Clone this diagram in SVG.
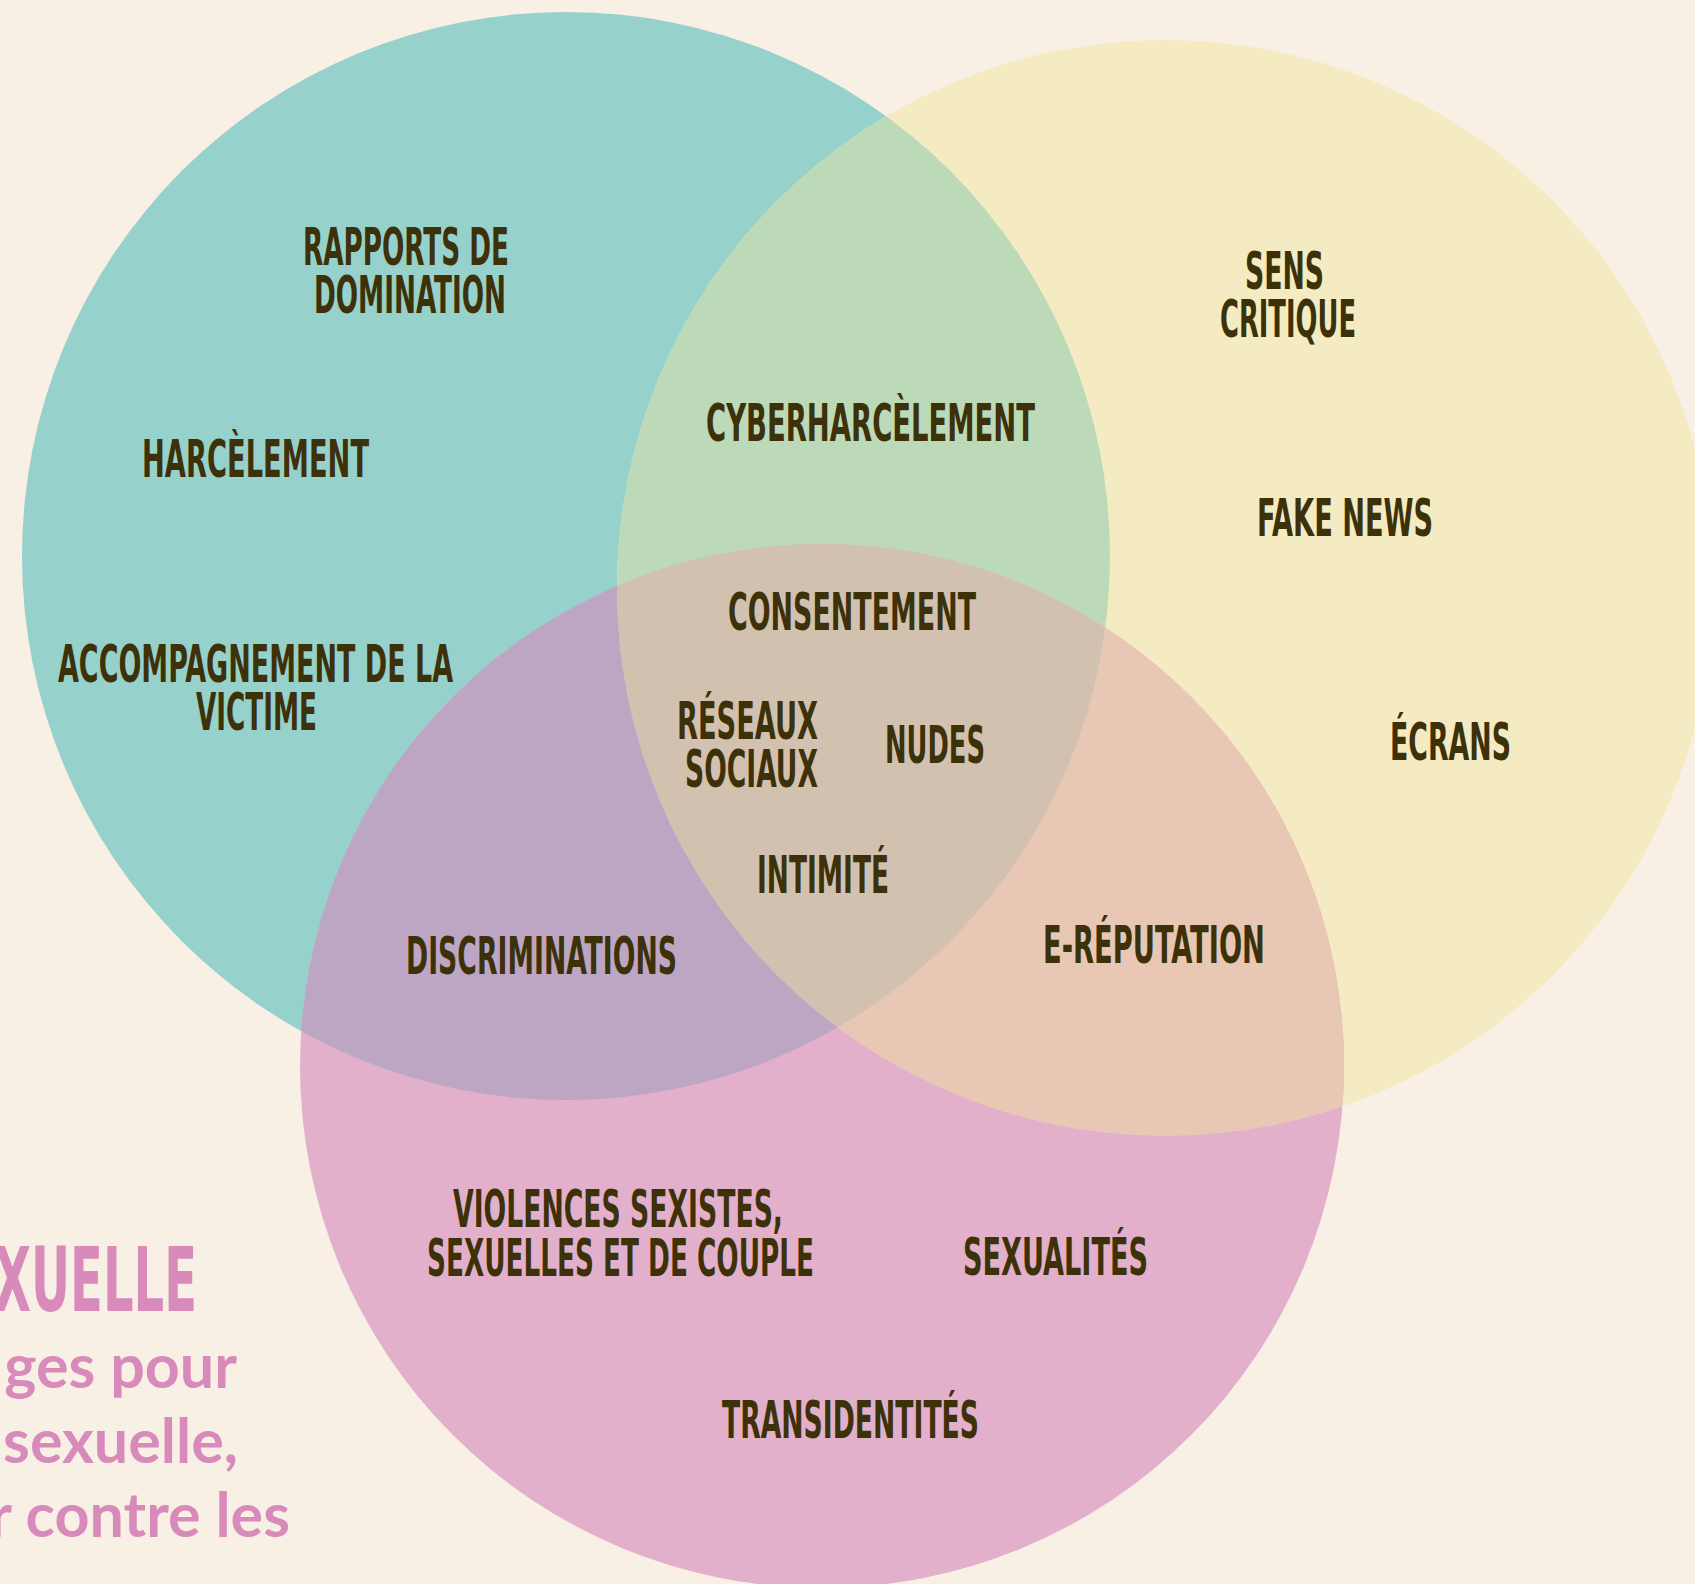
<svg xmlns="http://www.w3.org/2000/svg" width="1695" height="1584" viewBox="0 0 1695 1584">
<style>
.lbl{font-family:"Liberation Sans Narrow","DejaVu Sans Condensed","Roboto","Liberation Sans",sans-serif;font-weight:bold;font-stretch:condensed;font-size:52px;fill:#3D3109;text-anchor:middle}
.title{font-family:"Liberation Sans Narrow","DejaVu Sans Condensed","Roboto","Liberation Sans",sans-serif;font-weight:bold;font-stretch:condensed;font-size:89px;fill:#D88BBA}
.sub{font-family:"Lato","Liberation Sans",sans-serif;font-weight:bold;font-size:61px;fill:#D88BBA;text-anchor:end}
</style>
<defs>
<clipPath id="cTeal"><circle cx="566" cy="556" r="544"/></clipPath>
<clipPath id="cYellow"><circle cx="1165" cy="588" r="548"/></clipPath>
</defs>
<rect x="0" y="0" width="1695" height="1584" fill="#F8F0E5"/>
<g id="circles">
<circle id="teal" cx="566" cy="556" r="544" fill="#97D1CB"/>
<circle id="yellow" cx="1165" cy="588" r="548" fill="#F4EBC3"/>
<circle id="pink" cx="822" cy="1066" r="522" fill="#E2B0CB"/>
<circle cx="1165" cy="588" r="548" fill="#BCDAB8" clip-path="url(#cTeal)"/>
<circle cx="822" cy="1066" r="522" fill="#BCA6C4" clip-path="url(#cTeal)"/>
<circle cx="822" cy="1066" r="522" fill="#E8C7B4" clip-path="url(#cYellow)"/>
<g clip-path="url(#cYellow)"><circle cx="822" cy="1066" r="522" fill="#D3C1B0" clip-path="url(#cTeal)"/></g>
</g>
<g id="connectors"/>
<g id="n-rapports"><text class="lbl" x="406" y="265" textLength="206" lengthAdjust="spacingAndGlyphs">RAPPORTS DE</text><text class="lbl" x="410" y="313" textLength="192" lengthAdjust="spacingAndGlyphs">DOMINATION</text></g>
<g id="n-harcelement"><text class="lbl" x="255.5" y="477" textLength="227" lengthAdjust="spacingAndGlyphs">HARCÈLEMENT</text></g>
<g id="n-accompagnement"><text class="lbl" x="255.5" y="682" textLength="395" lengthAdjust="spacingAndGlyphs">ACCOMPAGNEMENT DE LA</text><text class="lbl" x="256.5" y="730" textLength="121" lengthAdjust="spacingAndGlyphs">VICTIME</text></g>
<g id="n-cyber"><text class="lbl" x="870.5" y="441" textLength="329" lengthAdjust="spacingAndGlyphs">CYBERHARCÈLEMENT</text></g>
<g id="n-consentement"><text class="lbl" x="852" y="630" textLength="248" lengthAdjust="spacingAndGlyphs">CONSENTEMENT</text></g>
<g id="n-reseaux"><text class="lbl" x="747.5" y="739" textLength="141" lengthAdjust="spacingAndGlyphs">RÉSEAUX</text><text class="lbl" x="751.5" y="787" textLength="133" lengthAdjust="spacingAndGlyphs">SOCIAUX</text></g>
<g id="n-nudes"><text class="lbl" x="935" y="763" textLength="100" lengthAdjust="spacingAndGlyphs">NUDES</text></g>
<g id="n-intimite"><text class="lbl" x="823" y="893" textLength="132" lengthAdjust="spacingAndGlyphs">INTIMITÉ</text></g>
<g id="n-discriminations"><text class="lbl" x="541.5" y="974" textLength="271" lengthAdjust="spacingAndGlyphs">DISCRIMINATIONS</text></g>
<g id="n-ereputation"><text class="lbl" x="1154" y="963" textLength="222" lengthAdjust="spacingAndGlyphs">E-RÉPUTATION</text></g>
<g id="n-sens"><text class="lbl" x="1284.5" y="289" textLength="79" lengthAdjust="spacingAndGlyphs">SENS</text><text class="lbl" x="1288" y="337" textLength="136" lengthAdjust="spacingAndGlyphs">CRITIQUE</text></g>
<g id="n-fakenews"><text class="lbl" x="1345" y="536" textLength="176" lengthAdjust="spacingAndGlyphs">FAKE NEWS</text></g>
<g id="n-ecrans"><text class="lbl" x="1450.5" y="760" textLength="121" lengthAdjust="spacingAndGlyphs">ÉCRANS</text></g>
<g id="n-violences"><text class="lbl" x="618" y="1227" textLength="330" lengthAdjust="spacingAndGlyphs">VIOLENCES SEXISTES,</text><text class="lbl" x="620.5" y="1276" textLength="387" lengthAdjust="spacingAndGlyphs">SEXUELLES ET DE COUPLE</text></g>
<g id="n-sexualites"><text class="lbl" x="1055.5" y="1275" textLength="185" lengthAdjust="spacingAndGlyphs">SEXUALITÉS</text></g>
<g id="n-transidentites"><text class="lbl" x="850.5" y="1438" textLength="257" lengthAdjust="spacingAndGlyphs">TRANSIDENTITÉS</text></g>
<g id="title">
<text class="title" x="-6" y="1311" textLength="203" lengthAdjust="spacingAndGlyphs">XUELLE</text>
<text class="sub" x="237" y="1388">ges pour</text>
<text class="sub" x="238" y="1463">sexuelle,</text>
<text class="sub" x="290" y="1537">r contre les</text>
</g>
</svg>
